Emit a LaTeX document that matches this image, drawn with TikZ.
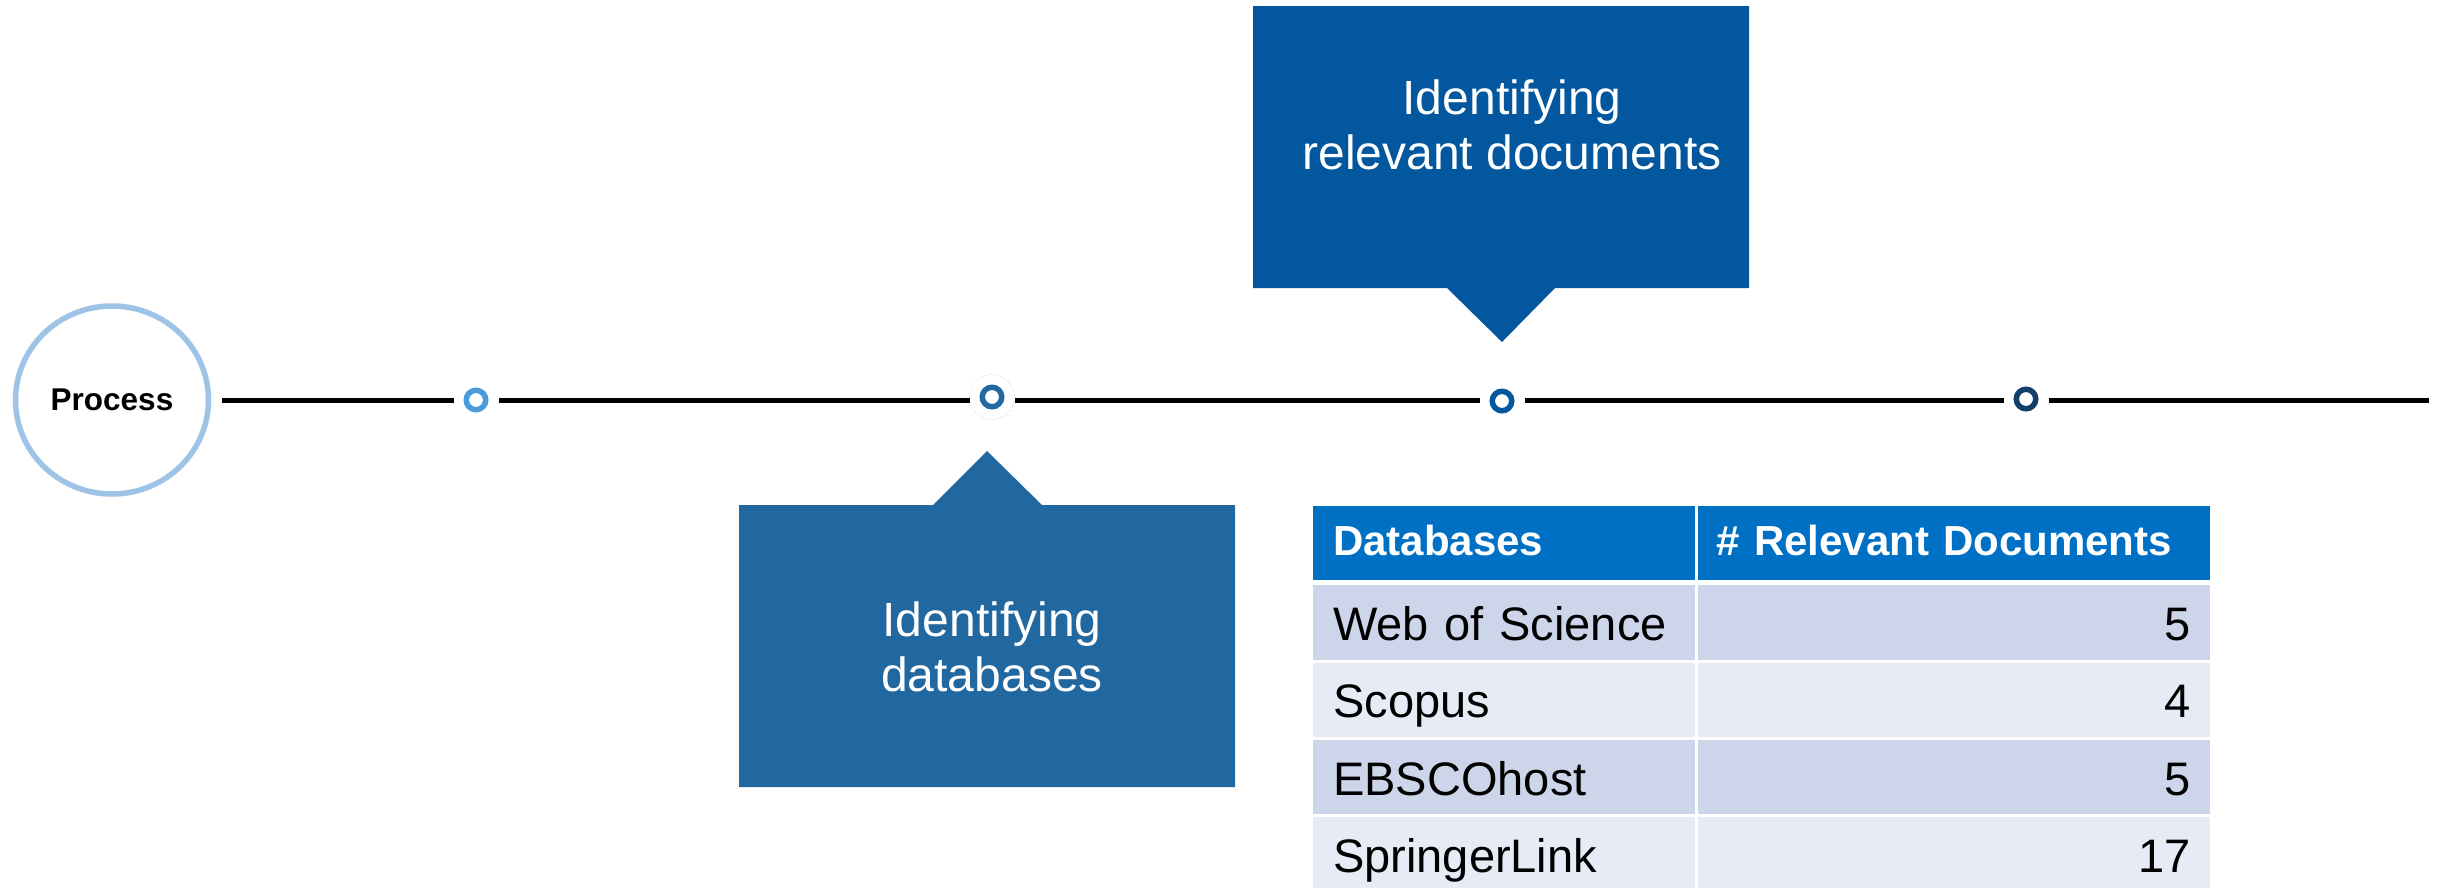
\documentclass[tikz,border=0pt]{standalone}
\usepackage{fontspec}
\setmainfont{Liberation Sans}
\usetikzlibrary{shapes.geometric}
\definecolor{procring}{HTML}{9DC3E6}
\definecolor{dotA}{HTML}{4A9CDC}
\definecolor{dotB}{HTML}{2369A1}
\definecolor{dotC}{HTML}{02579E}
\definecolor{dotD}{HTML}{123F6A}
\definecolor{calloutA}{HTML}{2268A0}
\definecolor{calloutB}{HTML}{02579E}
\definecolor{thead}{HTML}{0070C4}
\definecolor{bandA}{HTML}{CDD5EB}
\definecolor{bandB}{HTML}{E7EBF5}
\begin{document}
\begin{tikzpicture}[x=1pt,y=-1pt,
  dotring/.style={circle, draw=#1, line width=5.5pt, minimum size=19.5pt, inner sep=0pt, outer sep=12.75pt, fill=white},
  tline/.style={line width=5pt, black},
  ctext/.style={text=white, font=\fontsize{48}{55}\selectfont, align=center, inner sep=0pt},
  hcell/.style={fill=thead, text=white, font=\bfseries\fontsize{42}{48}\selectfont, minimum height=74pt, inner ysep=0pt, text height=33pt, text depth=9pt, anchor=north west},
  bcell/.style={fill=#1, text=black, font=\fontsize{47}{54}\selectfont, minimum height=74.5pt, inner ysep=0pt, text height=36pt, text depth=0pt, anchor=north west},
  colone/.style={inner xsep=20pt, text width=341.5pt, align=left},
  coltwo/.style={inner xsep=19pt, text width=474pt},
]
\useasboundingbox (0,0) rectangle (2440,887);

% timeline
\node[ellipse, draw=procring, line width=5.5pt, minimum width=193pt, minimum height=188pt, inner sep=0pt, font=\bfseries\fontsize{31.5}{36}\selectfont] (proc) at (112,400) {Process};
\node[dotring=dotA] (d1) at (476,400) {};
\node[dotring=dotB] (d2) at (992,397) {};
\node[dotring=dotC] (d3) at (1502,401) {};
\node[dotring=dotD] (d4) at (2026,399) {};
\coordinate (lend) at (2429,400);
\draw[black!12, line width=0.6pt, densely dashed] (d2) circle[radius=22.5pt];

\draw[tline] ([xshift=11pt]proc.east) -- (d1.west |- proc.east);
\draw[tline] (d1.east |- proc.east) -- (d2.west |- proc.east);
\draw[tline] (d2.east |- proc.east) -- (d3.west |- proc.east);
\draw[tline] (d3.east |- proc.east) -- (d4.west |- proc.east);
\draw[tline] (d4.east |- proc.east) -- (lend);

% callouts
\fill[calloutB] (1253,6) -- (1749,6) -- (1749,288) -- (1555,288) -- (1502,342) -- (1447,288) -- (1253,288) -- cycle;
\node[ctext] (ct2) at (1512,125) {Identifying\\relevant documents};

\fill[calloutA] (739,505) -- (933,505) -- (987,451) -- (1042,505) -- (1235,505) -- (1235,787) -- (739,787) -- cycle;
\node[ctext] (ct1) at (992,647) {Identifying\\databases};

% table
\node[hcell, colone] (h1) at (1313,506) {Databases};
\node[hcell, coltwo, align=left] (h2) at (1697.5,506) {\# Relevant Documents};

\node[bcell=bandA, colone] (r1a) at (1313,585) {Web of Science};
\node[bcell=bandA, coltwo, align=right] (r1b) at (1697.5,585) {5};
\node[bcell=bandB, colone] (r2a) at (1313,662.3) {Scopus};
\node[bcell=bandB, coltwo, align=right] (r2b) at (1697.5,662.3) {4};
\node[bcell=bandA, colone] (r3a) at (1313,739.6) {EBSCOhost};
\node[bcell=bandA, coltwo, align=right] (r3b) at (1697.5,739.6) {5};
\node[bcell=bandB, colone] (r4a) at (1313,816.9) {SpringerLink};
\node[bcell=bandB, coltwo, align=right] (r4b) at (1697.5,816.9) {17};
\end{tikzpicture}
\end{document}
